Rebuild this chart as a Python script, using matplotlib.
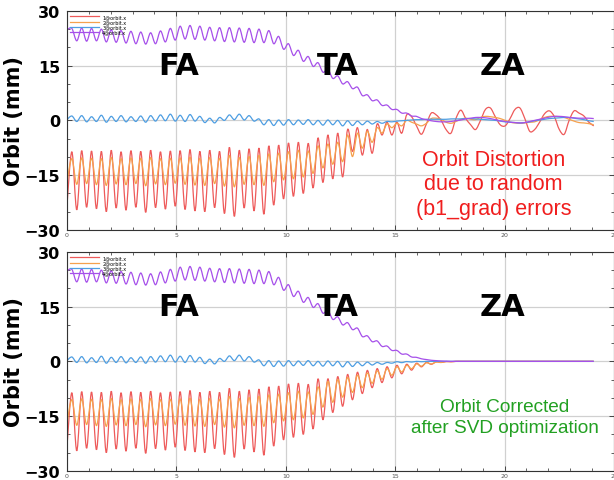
import numpy as np
import matplotlib.pyplot as plt
from matplotlib.ticker import MultipleLocator
from matplotlib.path import Path
from matplotlib.patches import PathPatch

# orbit samples every 0.225 in s (about half a betatron period)
step = 0.225

# FA part, the same in both panels
red_fa = [-23.5, -8.6, -24.5, -8.3, -23.8, -8.4, -24.2, -8.5, -25.0, -8.2,
          -24.0, -8.6, -24.6, -8.3, -23.8, -8.5, -25.2, -8.2, -23.9, -8.6,
          -24.3, -8.4, -23.5, -8.3, -24.4, -8.0, -24.8, -8.5, -25.0, -8.2,
          -23.9, -8.5, -25.5, -7.4, -26.3, -8.2, -24.0, -7.8, -24.8, -7.6,
          -25.7, -7.0, -23.2, -6.8, -21.5, -6.2, -20.8, -6.0, -20.0, -6.3,
          -18.5, -4.8]
orange_fa = [-17.0, -10.5, -17.5, -10.3, -17.3, -10.4, -17.6, -10.5, -17.8, -10.2,
             -17.4, -10.5, -17.6, -10.3, -17.3, -10.4, -17.9, -10.2, -17.4, -10.5,
             -17.6, -10.4, -17.2, -10.3, -17.5, -10.1, -17.7, -10.4, -17.8, -10.2,
             -17.3, -10.4, -18.0, -9.6, -18.2, -10.2, -17.5, -9.9, -17.6, -9.6,
             -17.8, -9.2, -16.8, -9.0, -16.3, -8.6, -16.0, -8.2, -15.5, -8.4,
             -14.5, -7.0]
blue_fa = [0.2, 1.2, -0.3, 1.3, -0.4, 1.0, -0.3, 1.4, -0.5, 1.1,
           -0.3, 1.3, -0.4, 1.0, -0.3, 1.2, -0.5, 1.3,
           -0.2, 1.5, -0.1, 1.7, -0.2, 1.4, -0.3, 1.6, -0.2, 1.1,
           -0.6, 0.6, -0.7, 0.8, 0.0, 1.5, 0.2, 1.7, 0.1, 1.3,
           -0.2, 0.4, -1.2, 0.2, -1.4, 0.1, -1.3, 0.2, -1.2, 0.1,
           -1.1, 0.2, -1.2, 0.0, -1.3, 0.1, -1.2, 0.0, -1.5, -0.1,
           -1.4, -0.2, -1.2, -0.2, -1.0, -0.3, -0.8, -0.3]
purple_fa = [24.8, 25.2, 21.8, 25.3, 21.7, 25.2, 21.8, 25.0, 21.5, 24.8,
             21.4, 24.6, 21.2, 24.4, 21.0, 24.2, 20.9, 24.0, 21.0, 24.5,
             21.5, 25.2, 22.0, 25.8, 22.3, 26.0, 22.2, 25.8, 22.0, 25.5,
             21.8, 25.4, 21.6, 25.4, 21.5, 25.3, 21.4, 25.2, 21.3, 25.0,
             21.3, 24.6, 21.0, 23.0, 19.5, 21.0, 17.8, 19.2, 16.2, 17.5,
             14.8, 15.8, 13.2, 14.0, 11.5, 12.2, 10.0, 10.6, 8.7, 9.1,
             6.8, 7.0, 5.4, 5.6, 4.1, 4.2, 3.0, 3.0, 2.0, 2.0,
             1.2, 1.1]

# TA/ZA with random b1_grad errors
red_err = [-17.0, -4.0, -16.0, -3.5, -15.5, -2.5, -8.5, -2.0, -9.5, -2.5,
           -9.0, -1.0, -4.0, -0.5, -4.0, -0.5, -3.5, 1.5, 1.0, -1.5,
           -3.8, -1.0, 2.0, 1.5, 0.0, -2.5, -3.5, 0.5, 2.8, 0.5,
           -1.2, -2.5, 0.0, 3.0, 3.4, 1.0, -1.2, -1.5, 0.5, 3.0,
           3.4, 0.5, -3.0, -2.5, -0.5, 1.8, 2.6, 1.0, -2.5, -3.8,
           0.0, 2.6, 2.0, 1.2, -0.5, -1.5]
orange_err = [-13.0, -6.5, -12.0, -6.0, -11.3, -4.0, -9.9, -3.5, -7.6, -3.0,
              -6.0, -2.0, -3.5, -1.0, -2.0, -0.8, -1.5, 0.0, -0.5, -1.0,
              -1.5, -0.8, 0.5, 0.6, 0.3, -0.5, -0.8, -0.3, 0.3, 0.6,
              0.3, 0.2, 0.8, 1.1, 1.0, 0.8, 0.5, 0.0, -0.5, -0.7,
              -0.8, -0.7, -0.5, -0.4, 0.2, 0.8, 1.1, 1.1, 1.0, 0.8,
              0.3, -0.2, -0.6, -0.7, -0.9, -1.2]
blue_err = [-0.4, -0.2, -0.1, 0.0, 0.1, 0.2, 0.2, 0.3, 0.3, 0.3,
            0.3, 0.3, 0.4, 0.4, 0.4, 0.5, 0.5, 0.4, 0.3, 0.2,
            0.1, 0.0, -0.2, -0.4, -0.5, -0.6, -0.7, -0.6, -0.4, -0.1,
            0.1, 0.3, 0.5, 0.6, 0.7, 0.8, 0.8, 0.6, 0.4, 0.2,
            -0.1, -0.3]
purple_err = [0.5, 0.2, -0.1, -0.3, -0.4, -0.4, -0.3, -0.1, 0.1, 0.4,
              0.6, 0.8, 0.8, 0.7, 0.5, 0.2, -0.1, -0.3, -0.5, -0.6,
              -0.7, -0.6, -0.3, 0.0, 0.3, 0.6, 0.9, 1.1, 1.1, 1.0,
              0.8, 0.7, 0.6, 0.6, 0.6, 0.5]

# TA/ZA after SVD correction
red_cor = [-16.0, -4.8, -14.0, -4.2, -12.3, -3.6, -10.5, -3.0, -8.8, -2.5,
           -7.2, -2.0, -5.8, -1.5, -4.5, -1.1, -3.4, -0.8, -2.4, -0.5,
           -1.5, -0.3, -0.8, -0.15, -0.3, -0.05, -0.1, 0.0, 0.0, 0.0,
           0.0, 0.0, 0.0, 0.0, 0.0, 0.0, 0.0, 0.0, 0.0, 0.0,
           0.0, 0.0, 0.0, 0.0, 0.0, 0.0, 0.0, 0.0, 0.0, 0.0,
           0.0, 0.0, 0.0, 0.0, 0.0, 0.0]
orange_cor = [-12.5, -5.5, -11.2, -5.0, -9.8, -4.4, -8.5, -3.8, -7.2, -3.2,
              -6.0, -2.6, -4.9, -2.0, -3.8, -1.5, -2.9, -1.1, -2.0, -0.7,
              -1.3, -0.4, -0.7, -0.2, -0.3, -0.05, -0.1, 0.0, 0.0, 0.0,
              0.0, 0.0, 0.0, 0.0, 0.0, 0.0, 0.0, 0.0, 0.0, 0.0,
              0.0, 0.0, 0.0, 0.0, 0.0, 0.0, 0.0, 0.0, 0.0, 0.0,
              0.0, 0.0, 0.0, 0.0, 0.0, 0.0]
blue_cor = [-0.5, -0.1, -0.35, -0.05, -0.2, 0.0, -0.1, 0.0, 0.0, 0.0,
            0.0, 0.0, 0.0, 0.0, 0.0, 0.0, 0.0, 0.0, 0.0, 0.0,
            0.0, 0.0, 0.0, 0.0, 0.0, 0.0, 0.0, 0.0, 0.0, 0.0,
            0.0, 0.0, 0.0, 0.0, 0.0, 0.0, 0.0, 0.0, 0.0, 0.0,
            0.0, 0.0]
purple_cor = [0.7, 0.5, 0.3, 0.2, 0.1, 0.05, 0.0, 0.0, 0.0, 0.0,
              0.0, 0.0, 0.0, 0.0, 0.0, 0.0, 0.0, 0.0, 0.0, 0.0,
              0.0, 0.0, 0.0, 0.0, 0.0, 0.0, 0.0, 0.0, 0.0, 0.0,
              0.0, 0.0, 0.0, 0.0, 0.0, 0.0]

labels = ['1@orbit.x', '2@orbit.x', '3@orbit.x', '4@orbit.x']
zones = ['FA', 'TA', 'ZA']
note_err = 'Orbit Distortion\ndue to random\n(b1_grad) errors'
note_cor = 'Orbit Corrected\nafter SVD optimization'

colors = ['#ee5a5a', '#f5a14e', '#4e9ee2', '#a650ea']

top = [red_fa + red_err, orange_fa + orange_err, blue_fa + blue_err, purple_fa + purple_err]
bot = [red_fa + red_cor, orange_fa + orange_cor, blue_fa + blue_cor, purple_fa + purple_cor]


def smooth_line(ax, s, y, color):
    # smooth (catmull-rom style) line drawn through every sample
    pts = np.column_stack([s, y])
    p = np.vstack([pts[:1], pts, pts[-1:]])
    verts = [pts[0]]
    for i in range(1, len(p) - 2):
        verts += [p[i] + (p[i + 1] - p[i - 1]) / 6, p[i + 1] - (p[i + 2] - p[i]) / 6, p[i + 1]]
    codes = [Path.MOVETO] + [Path.CURVE4] * (len(verts) - 1)
    ax.add_patch(PathPatch(Path(verts, codes), fill=False, edgecolor=color, lw=0.9))


fig = plt.figure(figsize=(6.14, 4.81), dpi=100)
ax1 = fig.add_axes([0.109, 0.520, 0.891, 0.4553])
ax2 = fig.add_axes([0.109, 0.019, 0.891, 0.4553])


def draw(ax, series, note, note_color, note_xy, note_size, note_ls, zone_y):
    for y, c, lab in zip(series, colors, labels):
        s = step * np.arange(len(y))
        smooth_line(ax, s, y, c)
        ax.plot([], [], color=c, lw=0.9, label=lab)
    ax.set_xlim(0, 25)
    ax.set_ylim(-30, 30)
    ax.xaxis.set_major_locator(MultipleLocator(5))
    ax.xaxis.set_minor_locator(MultipleLocator(1))
    ax.yaxis.set_major_locator(MultipleLocator(15))
    ax.yaxis.set_minor_locator(MultipleLocator(5))
    ax.grid(True, which='major', color='#d0d0d0', lw=0.9)
    ax.set_axisbelow(True)
    ax.tick_params(which='both', direction='in', top=True, right=True, color='#444444')
    ax.tick_params(which='major', length=3.5, width=0.7)
    ax.tick_params(which='minor', length=2, width=0.6)
    ax.tick_params(axis='x', labelsize=4.5, labelcolor='#555555', pad=1.5)
    ax.tick_params(axis='y', labelsize=11.5, pad=5)
    for t in ax.get_yticklabels():
        t.set_fontweight('bold')
    for sp in ax.spines.values():
        sp.set_color('#333333')
        sp.set_linewidth(0.8)
    ax.set_ylabel('Orbit (mm)', fontsize=15, fontweight='bold')
    ax.yaxis.set_label_coords(-0.078, 0.5)
    ax.legend(loc='upper left', fontsize=3.5, frameon=False, handlelength=6,
              labelspacing=0.05, borderaxespad=0.25, handletextpad=0.6)
    for name, zx in zip(zones, [5.1, 12.4, 19.9]):
        ax.text(zx, zone_y, name, fontsize=22, fontweight='bold', ha='center', va='center')
    ax.text(note_xy[0], note_xy[1], note, color=note_color, fontsize=note_size,
            family='Liberation Sans', ha='center', va='center', linespacing=note_ls)


draw(ax1, top, note_err, '#f01e1e', (19.5, -17.4), 15.5, 1.2, 15.0)
draw(ax2, bot, note_cor, '#22a022', (20.0, -15.2), 13.7, 1.3, 15.1)

fig.savefig('out.png', dpi=100)
